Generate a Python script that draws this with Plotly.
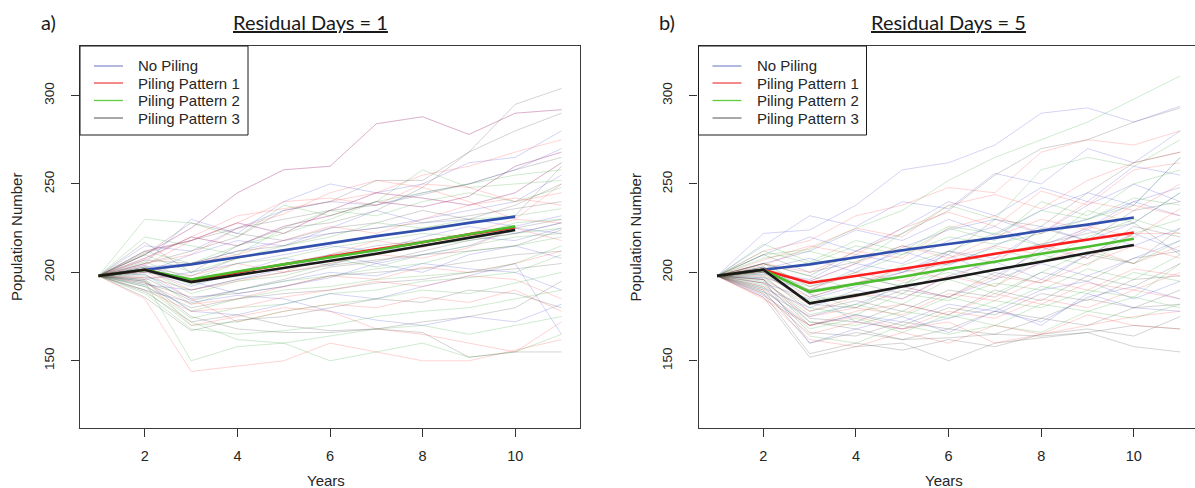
import plotly.graph_objects as go

W, H = 1195, 488
years = [1, 2, 3, 4, 5, 6, 7, 8, 9, 10, 11]
mean_years = [1, 2, 3, 4, 5, 6, 7, 8, 9, 10]
legend_labels = ["No Piling", "Piling Pattern 1", "Piling Pattern 2", "Piling Pattern 3"]
panel_titles = ["Residual Days = 1", "Residual Days = 5"]
panel_tags = ["a)", "b)"]
x_ticks = [2, 4, 6, 8, 10]
y_ticks = [150, 200, 250, 300]

# ---------------- Panel a (Residual Days = 1): individual runs ----------------
a_none = [
    [198, 210, 225, 245, 258, 260, 284, 288, 278, 290, 292],
    [198, 205, 230, 222, 240, 250, 245, 250, 262, 265, 280],
    [198, 215, 212, 225, 235, 240, 238, 245, 250, 258, 270],
    [198, 208, 220, 215, 226, 232, 240, 237, 243, 260, 268],
    [198, 203, 205, 212, 218, 222, 225, 230, 235, 240, 255],
    [198, 200, 210, 218, 215, 225, 235, 228, 230, 226, 232],
    [198, 196, 200, 205, 210, 215, 212, 220, 226, 222, 228],
    [198, 201, 192, 200, 208, 204, 212, 215, 220, 218, 225],
    [198, 193, 190, 196, 202, 210, 205, 200, 210, 215, 208],
    [198, 199, 185, 190, 195, 200, 198, 205, 202, 200, 190],
    [198, 190, 183, 187, 185, 178, 173, 170, 175, 172, 182],
    [198, 204, 195, 188, 192, 197, 205, 210, 215, 225, 222],
    [198, 212, 218, 228, 222, 235, 245, 242, 238, 245, 262],
    [198, 195, 178, 176, 182, 188, 185, 192, 198, 205, 165],
]
a_p1 = [
    [198, 210, 225, 245, 258, 260, 284, 288, 278, 290, 292],
    [198, 185, 144, 147, 150, 160, 155, 150, 150, 156, 162],
    [198, 207, 220, 232, 236, 240, 245, 255, 260, 268, 275],
    [198, 208, 220, 215, 226, 232, 240, 237, 243, 260, 268],
    [198, 204, 218, 228, 240, 242, 238, 250, 248, 240, 245],
    [198, 200, 205, 210, 218, 226, 222, 230, 238, 242, 238],
    [198, 197, 198, 205, 200, 210, 218, 214, 222, 230, 228],
    [198, 202, 190, 195, 200, 205, 210, 208, 214, 225, 218],
    [198, 194, 182, 185, 192, 198, 196, 203, 200, 205, 212],
    [198, 190, 178, 180, 186, 190, 195, 192, 198, 196, 185],
    [198, 201, 185, 172, 178, 182, 180, 186, 183, 190, 178],
    [198, 196, 170, 175, 180, 178, 168, 165, 160, 155, 172],
    [198, 212, 218, 228, 222, 235, 245, 242, 238, 245, 262],
    [198, 205, 210, 225, 233, 245, 252, 248, 240, 230, 250],
]
a_p2 = [
    [198, 230, 228, 220, 238, 232, 240, 258, 248, 250, 252],
    [198, 195, 150, 158, 160, 150, 155, 160, 152, 155, 165],
    [198, 220, 215, 210, 225, 235, 232, 240, 245, 240, 248],
    [198, 210, 200, 208, 215, 220, 228, 225, 230, 232, 236],
    [198, 206, 196, 205, 208, 214, 218, 222, 220, 228, 230],
    [198, 202, 188, 195, 198, 205, 210, 215, 218, 222, 225],
    [198, 199, 182, 190, 195, 198, 202, 205, 212, 215, 220],
    [198, 196, 178, 185, 190, 192, 196, 198, 200, 205, 215],
    [198, 193, 174, 180, 182, 188, 190, 195, 197, 200, 210],
    [198, 190, 170, 172, 178, 182, 185, 190, 188, 194, 200],
    [198, 188, 168, 165, 167, 170, 175, 178, 180, 185, 190],
    [198, 192, 172, 162, 160, 164, 168, 170, 165, 170, 175],
    [198, 212, 205, 215, 222, 230, 240, 245, 250, 255, 258],
    [198, 203, 193, 200, 205, 208, 203, 210, 215, 220, 222],
]
a_p3 = [
    [198, 205, 212, 220, 235, 240, 252, 252, 268, 295, 304],
    [198, 217, 200, 215, 225, 228, 235, 248, 268, 280, 290],
    [198, 210, 228, 222, 218, 225, 228, 235, 230, 238, 250],
    [198, 207, 205, 212, 215, 222, 225, 228, 232, 236, 240],
    [198, 200, 196, 200, 205, 210, 215, 218, 220, 225, 230],
    [198, 198, 190, 196, 200, 204, 207, 210, 212, 215, 224],
    [198, 194, 186, 188, 192, 198, 200, 202, 206, 210, 212],
    [198, 192, 180, 185, 188, 190, 194, 196, 200, 202, 205],
    [198, 189, 172, 176, 170, 167, 168, 172, 175, 180, 195],
    [198, 186, 167, 173, 175, 180, 185, 183, 190, 188, 180],
    [198, 195, 175, 168, 166, 166, 168, 166, 152, 155, 155],
    [198, 203, 198, 208, 212, 216, 220, 225, 228, 232, 260],
    [198, 211, 218, 225, 230, 235, 238, 244, 250, 258, 265],
    [198, 197, 184, 190, 196, 203, 206, 212, 218, 222, 228],
]
# Panel a means
a_mean_none = [198, 201.5, 204.5, 208.5, 212.5, 216.5, 220.5, 224, 228, 231.5]
a_mean_p1 = [198, 201.5, 195.5, 200, 204.5, 209, 213, 217, 221.5, 225.5]
a_mean_p2 = [198, 201.5, 196, 200.5, 204.5, 208.5, 212.5, 217, 221.5, 226]
a_mean_p3 = [198, 201.5, 194.5, 198.5, 202.5, 206.5, 210.5, 215, 219.5, 224]

# ---------------- Panel b (Residual Days = 5): individual runs ----------------
b_none = [
    [198, 222, 224, 238, 258, 262, 272, 290, 293, 285, 294],
    [198, 215, 232, 226, 240, 236, 256, 250, 270, 262, 280],
    [198, 210, 220, 212, 225, 240, 232, 248, 240, 260, 255],
    [198, 205, 212, 224, 218, 230, 221, 235, 245, 238, 265],
    [198, 202, 208, 200, 214, 224, 230, 222, 238, 250, 240],
    [198, 200, 196, 210, 205, 218, 226, 215, 225, 240, 232],
    [198, 197, 190, 202, 212, 204, 215, 226, 218, 228, 245],
    [198, 194, 185, 192, 200, 210, 198, 212, 224, 215, 225],
    [198, 191, 180, 190, 185, 198, 206, 196, 210, 222, 212],
    [198, 189, 175, 182, 192, 186, 196, 205, 198, 208, 218],
    [198, 187, 170, 176, 172, 182, 178, 190, 195, 185, 195],
    [198, 203, 188, 172, 168, 174, 180, 170, 188, 180, 178],
    [198, 199, 195, 205, 200, 212, 208, 224, 230, 240, 248],
    [198, 196, 160, 168, 175, 166, 178, 172, 186, 192, 185],
]
b_p1 = [
    [198, 212, 218, 232, 238, 248, 245, 268, 275, 272, 280],
    [198, 207, 215, 210, 225, 234, 226, 246, 238, 258, 262],
    [198, 205, 200, 212, 208, 225, 232, 222, 240, 235, 250],
    [198, 202, 195, 205, 215, 208, 220, 230, 224, 238, 232],
    [198, 200, 190, 200, 195, 208, 215, 210, 226, 220, 236],
    [198, 198, 186, 194, 202, 196, 208, 216, 208, 222, 222],
    [198, 196, 182, 188, 185, 198, 192, 206, 214, 205, 215],
    [198, 194, 178, 186, 192, 186, 198, 194, 205, 215, 208],
    [198, 192, 175, 180, 176, 188, 184, 196, 190, 202, 198],
    [198, 190, 170, 178, 182, 176, 188, 182, 194, 190, 200],
    [198, 188, 165, 172, 168, 178, 174, 185, 180, 190, 185],
    [198, 186, 162, 158, 166, 160, 170, 165, 176, 170, 168],
    [198, 204, 214, 225, 220, 238, 244, 236, 252, 262, 268],
    [198, 185, 170, 175, 168, 172, 160, 165, 170, 175, 178],
]
b_p2 = [
    [198, 210, 213, 225, 235, 252, 265, 275, 285, 298, 311],
    [198, 208, 212, 205, 222, 238, 230, 258, 265, 260, 275],
    [198, 212, 205, 215, 210, 225, 218, 240, 232, 250, 258],
    [198, 205, 198, 190, 204, 212, 222, 215, 235, 228, 245],
    [198, 203, 194, 198, 192, 205, 214, 206, 220, 230, 222],
    [198, 201, 188, 180, 194, 200, 192, 210, 204, 222, 230],
    [198, 199, 184, 188, 182, 196, 188, 200, 212, 205, 218],
    [198, 197, 180, 176, 188, 184, 194, 190, 202, 196, 210],
    [198, 195, 176, 182, 175, 186, 180, 192, 188, 200, 195],
    [198, 193, 172, 170, 178, 174, 184, 180, 190, 186, 205],
    [198, 191, 168, 174, 166, 176, 170, 182, 178, 186, 180],
    [198, 189, 164, 160, 170, 165, 170, 166, 178, 174, 182],
    [198, 216, 206, 218, 212, 226, 222, 235, 230, 242, 238],
    [198, 200, 192, 200, 210, 220, 216, 222, 230, 238, 265],
]
b_p3 = [
    [198, 205, 198, 212, 222, 235, 255, 270, 275, 285, 293],
    [198, 210, 200, 206, 215, 210, 230, 226, 245, 262, 268],
    [198, 205, 192, 198, 192, 212, 205, 225, 218, 235, 240],
    [198, 202, 186, 194, 188, 202, 196, 214, 208, 226, 220],
    [198, 200, 182, 180, 190, 186, 200, 194, 210, 205, 225],
    [198, 198, 178, 184, 178, 190, 186, 200, 195, 208, 212],
    [198, 196, 174, 172, 182, 176, 190, 184, 198, 192, 205],
    [198, 194, 170, 176, 170, 180, 176, 188, 184, 196, 198],
    [198, 192, 166, 164, 172, 168, 178, 174, 185, 180, 190],
    [198, 190, 160, 166, 162, 168, 165, 174, 170, 180, 182],
    [198, 188, 154, 160, 156, 162, 158, 165, 168, 164, 175],
    [198, 186, 152, 158, 160, 150, 160, 163, 166, 158, 155],
    [198, 196, 172, 168, 162, 163, 165, 164, 166, 170, 168],
    [198, 203, 190, 194, 200, 205, 210, 216, 222, 228, 210],
]
# Panel b means
b_mean_none = [198, 201.5, 204.5, 208.5, 212.5, 216, 219.5, 223.5, 227, 231]
b_mean_p1 = [198, 201.5, 194, 198, 202, 206, 210.5, 214.5, 218.5, 222.5]
b_mean_p2 = [198, 201.5, 189, 193.5, 197.5, 202, 206, 210.5, 214.5, 219]
b_mean_p3 = [198, 201.5, 182.5, 187, 192, 196.5, 201.5, 206, 211, 215.5]

# ---------------- styling ----------------
thin_colors = ["rgba(60,60,210,0.22)", "rgba(255,40,40,0.2)",
               "rgba(40,160,40,0.22)", "rgba(60,60,60,0.22)"]
mean_colors = ["#3150AE", "#FF1E1E", "#4DBE2E", "#1A1A1A"]
legend_colors = ["#8A92CE", "#F04848", "#62CC40", "#7A7A7A"]
XTICK_FONT = dict(family="Liberation Sans, Arial, sans-serif", size=14.5, color="#262626")
YTICK_FONT = dict(family="Liberation Sans, Arial, sans-serif", size=13.5, color="#262626")
LAB_FONT = dict(family="Liberation Sans, Arial, sans-serif", size=15, color="#262626")
TITLE_FONT = dict(family="Lato, Carlito, sans-serif", size=20, color="#1a1a1a")

# pixel geometry
PLOT_TOP, PLOT_BOTTOM = 46, 428
panels = [
    dict(left=80, right=580, xrange=[0.6, 11.4], title_cx=310, tag_cx=48),
    dict(left=698.5, right=1195, xrange=[0.6, 11.32], title_cx=948, tag_cx=667),
]


def px(x):
    return x / W


def py(y):
    return 1 - y / H


fig = go.Figure()
data_sets = [
    ([a_none, a_p1, a_p2, a_p3], [a_mean_none, a_mean_p1, a_mean_p2, a_mean_p3]),
    ([b_none, b_p1, b_p2, b_p3], [b_mean_none, b_mean_p1, b_mean_p2, b_mean_p3]),
]

for i, (runs_groups, means) in enumerate(data_sets):
    xa = "x" if i == 0 else "x2"
    ya = "y" if i == 0 else "y2"
    for g, runs in enumerate(runs_groups):
        for run in runs:
            fig.add_trace(go.Scatter(
                x=years, y=run, mode="lines", xaxis=xa, yaxis=ya,
                line=dict(color=thin_colors[g], width=1), showlegend=False,
                hoverinfo="skip"))
    for g, m in enumerate(means):
        fig.add_trace(go.Scatter(
            x=mean_years, y=m, mode="lines", xaxis=xa, yaxis=ya,
            name=legend_labels[g],
            line=dict(color=mean_colors[g], width=2.6), showlegend=False))

shapes = []
annotations = []
for i, p in enumerate(panels):
    L = p["left"]
    # legend box
    shapes.append(dict(type="rect", xref="paper", yref="paper",
                       x0=px(L), x1=px(L + 168), y0=py(135), y1=py(PLOT_TOP),
                       line=dict(color="#1a1a1a", width=1), fillcolor="white",
                       layer="above"))
    rows = [66, 83, 100.5, 118]
    for k, lab in enumerate(legend_labels):
        shapes.append(dict(type="line", xref="paper", yref="paper",
                           x0=px(L + 14), x1=px(L + 43), y0=py(rows[k]), y1=py(rows[k]),
                           line=dict(color=legend_colors[k], width=1.3), layer="above"))
        annotations.append(dict(text=lab, xref="paper", yref="paper",
                                x=px(L + 56), y=py(rows[k]), xanchor="left",
                                yanchor="middle", showarrow=False, font=LAB_FONT))
    # titles
    annotations.append(dict(text="<u>" + panel_titles[i] + "</u>", xref="paper", yref="paper",
                            x=px(p["title_cx"]), y=py(22), xanchor="center", yanchor="middle",
                            showarrow=False, font=TITLE_FONT))
    annotations.append(dict(text=panel_tags[i], xref="paper", yref="paper",
                            x=px(p["tag_cx"]), y=py(22), xanchor="center", yanchor="middle",
                            showarrow=False, font=TITLE_FONT))
    # axis titles
    annotations.append(dict(text="Years", xref="paper", yref="paper",
                            x=px((L + L + 500) / 2 - 4), y=py(480), xanchor="center",
                            yanchor="middle", showarrow=False, font=LAB_FONT))
    annotations.append(dict(text="Population Number", xref="paper", yref="paper",
                            x=px(L - 63), y=py(237), xanchor="center", yanchor="middle",
                            textangle=-90, showarrow=False, font=LAB_FONT))

common_x = dict(tickvals=x_ticks, ticks="outside", ticklen=8, tickwidth=1,
                tickcolor="#333", showline=True, linecolor="#3a3a3a", linewidth=1.2,
                mirror=True, showgrid=False, zeroline=False, tickfont=XTICK_FONT,
                automargin=False, ticklabelstandoff=6)
common_y = dict(tickvals=y_ticks, ticks="outside", ticklen=8, tickwidth=1,
                tickcolor="#333", showline=True, linecolor="#3a3a3a", linewidth=1.2,
                showgrid=False, zeroline=False, tickfont=YTICK_FONT, tickangle=-90,
                range=[112, 328], automargin=False, ticklabelstandoff=12)

ydom = [py(PLOT_BOTTOM), py(PLOT_TOP)]
fig.update_layout(
    width=W, height=H, template="none",
    margin=dict(l=0, r=0, t=0, b=0),
    paper_bgcolor="white", plot_bgcolor="white",
    showlegend=False,
    xaxis=dict(domain=[px(panels[0]["left"]), px(panels[0]["right"])],
               range=panels[0]["xrange"], anchor="y", **common_x),
    yaxis=dict(domain=ydom, anchor="x", mirror=True, **common_y),
    xaxis2=dict(domain=[px(panels[1]["left"]), 1.0],
                range=panels[1]["xrange"], anchor="y2", **common_x),
    yaxis2=dict(domain=ydom, anchor="x2", mirror=False, **common_y),
    shapes=shapes, annotations=annotations,
)

fig.write_html("out.html")
